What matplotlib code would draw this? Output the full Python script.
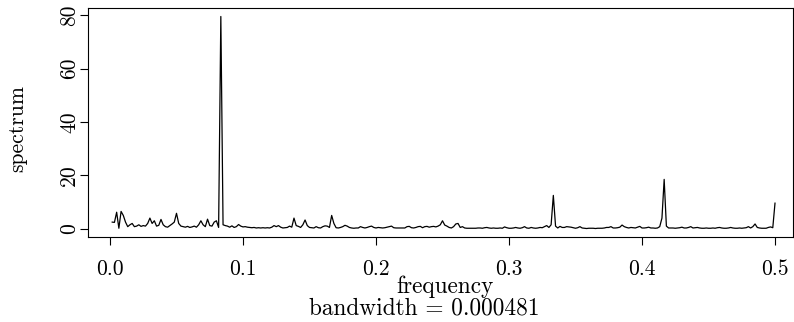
import numpy as np
import matplotlib
matplotlib.use("Agg")
import matplotlib.pyplot as plt

n_series = 600
k = np.arange(1, 301)
frequency = k / n_series

spectrum = [
    # k = 1..25
    2.5, 2.4, 6.2, 0.2, 6.5, 5.0, 2.5, 0.8, 1.5, 2.0,
    0.8, 1.0, 1.5, 0.9, 1.2, 1.0, 2.0, 4.0, 2.0, 3.0,
    1.0, 1.3, 3.5, 1.5, 0.8,
    # k = 26..50
    0.6, 1.2, 1.8, 2.5, 5.8, 2.0, 1.0, 0.8, 0.6, 0.9,
    0.5, 0.7, 1.0, 0.6, 1.5, 3.0, 1.5, 0.8, 3.6, 1.2,
    1.0, 2.5, 3.0, 0.5, 79.5,
    # k = 51..75
    1.5, 1.2, 1.0, 0.6, 1.1, 0.5, 0.8, 1.6, 1.0, 0.7,
    0.8, 0.6, 0.5, 0.4, 0.5, 0.3, 0.4, 0.3, 0.4, 0.3,
    0.4, 0.3, 0.6, 1.2, 0.8,
    # k = 76..100
    1.2, 0.6, 0.3, 0.4, 0.5, 1.0, 0.6, 4.0, 1.2, 0.9,
    0.5, 1.5, 3.3, 1.2, 0.5, 0.4, 0.3, 0.8, 0.4, 0.3,
    0.8, 1.1, 1.0, 0.5, 5.0,
    # k = 101..125
    2.0, 0.4, 0.3, 0.5, 0.8, 1.3, 1.0, 0.5, 0.3, 0.2,
    0.3, 0.3, 0.8, 0.5, 0.3, 0.5, 0.8, 1.0, 0.5, 0.3,
    0.5, 0.4, 0.3, 0.4, 0.6,
    # k = 126..150
    0.8, 1.0, 0.4, 0.3, 0.3, 0.3, 0.3, 0.3, 0.8, 0.9,
    0.4, 0.3, 0.5, 0.8, 0.9, 0.4, 0.8, 0.9, 0.6, 0.8,
    0.9, 0.7, 1.0, 1.5, 3.0,
    # k = 151..175
    1.4, 1.0, 0.5, 0.3, 0.8, 1.8, 2.0, 0.5, 0.8, 0.3,
    0.2, 0.2, 0.2, 0.2, 0.2, 0.3, 0.3, 0.2, 0.4, 0.5,
    0.3, 0.2, 0.3, 0.2, 0.2,
    # k = 176..200
    0.3, 0.2, 0.7, 0.4, 0.2, 0.2, 0.3, 0.5, 0.3, 0.2,
    0.4, 0.8, 0.3, 0.2, 0.5, 0.3, 0.2, 0.3, 0.5, 0.4,
    0.8, 1.2, 0.5, 1.5, 12.5,
    # k = 201..225
    1.0, 0.3, 0.9, 0.5, 0.5, 0.8, 0.7, 0.6, 0.4, 0.2,
    0.4, 0.8, 0.3, 0.2, 0.1, 0.2, 0.2, 0.2, 0.1, 0.2,
    0.2, 0.2, 0.3, 0.5, 0.5,
    # k = 226..250
    0.8, 0.3, 0.3, 0.4, 0.6, 1.4, 0.8, 0.5, 0.3, 0.5,
    0.4, 0.3, 0.6, 0.9, 0.3, 0.3, 0.4, 0.6, 0.3, 0.3,
    0.2, 0.3, 0.8, 4.0, 18.5,
    # k = 251..275
    1.0, 0.3, 0.3, 0.3, 0.2, 0.3, 0.4, 0.6, 0.3, 0.3,
    0.5, 0.8, 0.3, 0.4, 0.5, 0.3, 0.2, 0.2, 0.3, 0.2,
    0.2, 0.3, 0.2, 0.4, 0.5,
    # k = 276..300
    0.3, 0.2, 0.2, 0.3, 0.5, 0.3, 0.2, 0.2, 0.3, 0.2,
    0.3, 0.4, 0.8, 0.3, 0.8, 1.8, 0.5, 0.3, 0.2, 0.2,
    0.2, 0.5, 0.7, 0.4, 9.6,
]

x_ticks = [0.0, 0.1, 0.2, 0.3, 0.4, 0.5]
x_tick_labels = ["0.0", "0.1", "0.2", "0.3", "0.4", "0.5"]
y_ticks = [0, 20, 40, 60, 80]
y_tick_labels = ["0", "20", "40", "60", "80"]
bandwidth_text = "bandwidth = 0.000481"

plt.rcParams["font.family"] = "cmr10"
plt.rcParams["axes.formatter.use_mathtext"] = True

W, H = 794, 322
FS = 15.5
FS_LAB = 16.8
fig = plt.figure(figsize=(W / 100, H / 100), dpi=100)
left, right, top, bottom = 88, 793, 8, 237
ax = fig.add_axes([left / W, 1 - bottom / H, (right - left) / W, (bottom - top) / H])
ax.plot(frequency, spectrum, color="black", lw=0.9)

# pixel calibration: x=0 at 110 px, x=0.5 at 775 px
ppu = (775 - 110) / 0.5
ax.set_xlim(-(110 - left) / ppu, 0.5 + (right - 775) / ppu)
ymax = max(spectrum)
ymin = min(spectrum)
yr = ymax - ymin
ax.set_ylim(ymin - 0.04 * yr, ymax + 0.04 * yr)

ax.set_xticks(x_ticks)
ax.set_xticklabels(x_tick_labels)
ax.set_yticks(y_ticks)
ax.set_yticklabels(y_tick_labels, rotation=90, va="center")
ax.tick_params(axis="both", direction="out", length=6, width=0.8,
               labelsize=FS, color="black")
ax.tick_params(axis="x", pad=10)
ax.tick_params(axis="y", pad=0.5)
for s in ax.spines.values():
    s.set_linewidth(0.8)

fig.text(17 / W, 1 - 128 / H, "spectrum", rotation=90, ha="center", va="center", fontsize=FS)
fig.text(445 / W, 1 - 287 / H, "frequency", ha="center", va="center", fontsize=FS_LAB)
fig.text(424 / W, 1 - 308 / H, bandwidth_text, ha="center", va="center", fontsize=FS_LAB)

fig.savefig("out.png", dpi=100)
